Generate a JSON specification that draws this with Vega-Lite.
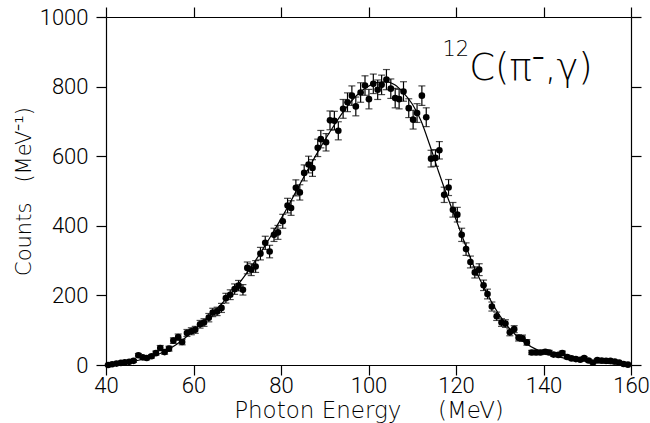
{
  "$schema": "https://vega.github.io/schema/vega-lite/v6.json",
  "width": 525,
  "height": 348,
  "autosize": {"type": "none"},
  "padding": {"left": 106, "top": 17, "right": 19, "bottom": 58},
  "background": "white",
  "config": {
    "view": {"stroke": null},
    "axis": {
      "grid": false,
      "domainColor": "black",
      "domainWidth": 1.2,
      "tickColor": "black",
      "tickWidth": 1.2,
      "tickSize": 10,
      "labelFont": "Roboto",
      "labelFontSize": 22,
      "labelFontWeight": 300,
      "labelColor": "black",
      "labelFlush": false,
      "labelOverlap": false,
      "titleFont": "DejaVu Sans",
      "titleFontSize": 21,
      "titleFontWeight": 200,
      "titleColor": "black"
    }
  },
  "datasets": {
    "obs": [
      {"energy": 40.5, "counts": 0, "err": 2},
      {"energy": 41.4, "counts": 2, "err": 2},
      {"energy": 42.4, "counts": 4, "err": 2},
      {"energy": 43.4, "counts": 6, "err": 3},
      {"energy": 44.3, "counts": 8, "err": 3},
      {"energy": 45.3, "counts": 9, "err": 3},
      {"energy": 46.3, "counts": 12, "err": 4},
      {"energy": 47.4, "counts": 28, "err": 5},
      {"energy": 48.4, "counts": 22, "err": 5},
      {"energy": 49.3, "counts": 20, "err": 5},
      {"energy": 50.4, "counts": 25, "err": 5},
      {"energy": 51.4, "counts": 34, "err": 6},
      {"energy": 52.4, "counts": 49, "err": 7},
      {"energy": 53.4, "counts": 37, "err": 6},
      {"energy": 54.4, "counts": 47, "err": 7},
      {"energy": 55.4, "counts": 70, "err": 8},
      {"energy": 56.5, "counts": 80, "err": 9},
      {"energy": 57.4, "counts": 66, "err": 8},
      {"energy": 58.5, "counts": 92, "err": 10},
      {"energy": 59.5, "counts": 97, "err": 10},
      {"energy": 60.4, "counts": 101, "err": 10},
      {"energy": 61.5, "counts": 117, "err": 11},
      {"energy": 62.4, "counts": 122, "err": 11},
      {"energy": 63.5, "counts": 136, "err": 12},
      {"energy": 64.4, "counts": 151, "err": 12},
      {"energy": 65.4, "counts": 154, "err": 12},
      {"energy": 66.4, "counts": 164, "err": 13},
      {"energy": 67.4, "counts": 192, "err": 14},
      {"energy": 68.4, "counts": 202, "err": 14},
      {"energy": 69.4, "counts": 218, "err": 15},
      {"energy": 70.3, "counts": 228, "err": 15},
      {"energy": 71.3, "counts": 216, "err": 15},
      {"energy": 72.3, "counts": 279, "err": 17},
      {"energy": 73.2, "counts": 274, "err": 17},
      {"energy": 74.2, "counts": 283, "err": 17},
      {"energy": 75.3, "counts": 320, "err": 18},
      {"energy": 76.4, "counts": 351, "err": 19},
      {"energy": 77.4, "counts": 326, "err": 18},
      {"energy": 78.4, "counts": 374, "err": 19},
      {"energy": 79.3, "counts": 381, "err": 20},
      {"energy": 80.4, "counts": 413, "err": 20},
      {"energy": 81.5, "counts": 458, "err": 21},
      {"energy": 82.3, "counts": 451, "err": 21},
      {"energy": 83.4, "counts": 509, "err": 23},
      {"energy": 84.3, "counts": 496, "err": 22},
      {"energy": 85.3, "counts": 552, "err": 23},
      {"energy": 86.3, "counts": 576, "err": 24},
      {"energy": 87.2, "counts": 566, "err": 24},
      {"energy": 88.4, "counts": 624, "err": 25},
      {"energy": 89.1, "counts": 649, "err": 25},
      {"energy": 90.3, "counts": 640, "err": 25},
      {"energy": 91.2, "counts": 703, "err": 27},
      {"energy": 92.2, "counts": 702, "err": 27},
      {"energy": 93.1, "counts": 673, "err": 26},
      {"energy": 94.2, "counts": 736, "err": 27},
      {"energy": 95.2, "counts": 755, "err": 27},
      {"energy": 96.2, "counts": 774, "err": 28},
      {"energy": 97.1, "counts": 743, "err": 27},
      {"energy": 98.2, "counts": 783, "err": 28},
      {"energy": 99.2, "counts": 803, "err": 28},
      {"energy": 100.1, "counts": 764, "err": 28},
      {"energy": 101.1, "counts": 808, "err": 28},
      {"energy": 102.1, "counts": 791, "err": 28},
      {"energy": 103.0, "counts": 805, "err": 28},
      {"energy": 104.1, "counts": 820, "err": 29},
      {"energy": 105.1, "counts": 794, "err": 28},
      {"energy": 106.1, "counts": 767, "err": 28},
      {"energy": 107.0, "counts": 764, "err": 28},
      {"energy": 108.0, "counts": 786, "err": 28},
      {"energy": 109.2, "counts": 738, "err": 27},
      {"energy": 110.2, "counts": 705, "err": 27},
      {"energy": 111.1, "counts": 724, "err": 27},
      {"energy": 112.2, "counts": 774, "err": 28},
      {"energy": 113.2, "counts": 712, "err": 27},
      {"energy": 114.3, "counts": 593, "err": 24},
      {"energy": 115.3, "counts": 595, "err": 24},
      {"energy": 116.2, "counts": 617, "err": 25},
      {"energy": 117.3, "counts": 489, "err": 22},
      {"energy": 118.3, "counts": 510, "err": 23},
      {"energy": 119.3, "counts": 446, "err": 21},
      {"energy": 120.3, "counts": 432, "err": 21},
      {"energy": 121.3, "counts": 374, "err": 19},
      {"energy": 122.3, "counts": 333, "err": 18},
      {"energy": 123.3, "counts": 296, "err": 17},
      {"energy": 124.3, "counts": 266, "err": 16},
      {"energy": 125.3, "counts": 274, "err": 17},
      {"energy": 126.3, "counts": 229, "err": 15},
      {"energy": 127.2, "counts": 204, "err": 14},
      {"energy": 128.2, "counts": 168, "err": 13},
      {"energy": 129.3, "counts": 140, "err": 12},
      {"energy": 130.4, "counts": 122, "err": 11},
      {"energy": 131.3, "counts": 119, "err": 11},
      {"energy": 132.3, "counts": 94, "err": 10},
      {"energy": 133.3, "counts": 103, "err": 10},
      {"energy": 134.3, "counts": 78, "err": 9},
      {"energy": 135.2, "counts": 77, "err": 9},
      {"energy": 136.2, "counts": 65, "err": 8},
      {"energy": 137.3, "counts": 36, "err": 6},
      {"energy": 138.3, "counts": 36, "err": 6},
      {"energy": 139.3, "counts": 36, "err": 6},
      {"energy": 140.4, "counts": 38, "err": 6},
      {"energy": 141.3, "counts": 36, "err": 6},
      {"energy": 142.3, "counts": 30, "err": 5},
      {"energy": 143.4, "counts": 29, "err": 5},
      {"energy": 144.3, "counts": 34, "err": 6},
      {"energy": 145.4, "counts": 23, "err": 5},
      {"energy": 146.4, "counts": 19, "err": 4},
      {"energy": 147.4, "counts": 17, "err": 4},
      {"energy": 148.4, "counts": 15, "err": 4},
      {"energy": 149.3, "counts": 20, "err": 4},
      {"energy": 150.3, "counts": 13, "err": 4},
      {"energy": 151.3, "counts": 7, "err": 3},
      {"energy": 152.3, "counts": 14, "err": 4},
      {"energy": 153.3, "counts": 13, "err": 4},
      {"energy": 154.3, "counts": 12, "err": 3},
      {"energy": 155.3, "counts": 12, "err": 3},
      {"energy": 156.3, "counts": 10, "err": 3},
      {"energy": 157.3, "counts": 7, "err": 3},
      {"energy": 158.3, "counts": 3, "err": 2},
      {"energy": 159.3, "counts": 1, "err": 1}
    ],
    "fit": [
      {"energy": 40, "fit": 1}, {"energy": 42, "fit": 3}, {"energy": 44, "fit": 6},
      {"energy": 46, "fit": 10}, {"energy": 48, "fit": 15}, {"energy": 50, "fit": 22},
      {"energy": 52, "fit": 31}, {"energy": 54, "fit": 43}, {"energy": 56, "fit": 58},
      {"energy": 58, "fit": 77}, {"energy": 60, "fit": 99}, {"energy": 62, "fit": 122},
      {"energy": 64, "fit": 145}, {"energy": 66, "fit": 170}, {"energy": 68, "fit": 198},
      {"energy": 70, "fit": 228}, {"energy": 72, "fit": 261}, {"energy": 74, "fit": 297},
      {"energy": 76, "fit": 336}, {"energy": 78, "fit": 377}, {"energy": 80, "fit": 420},
      {"energy": 82, "fit": 465}, {"energy": 84, "fit": 512}, {"energy": 86, "fit": 558},
      {"energy": 88, "fit": 603}, {"energy": 90, "fit": 646}, {"energy": 92, "fit": 686},
      {"energy": 94, "fit": 724}, {"energy": 96, "fit": 757}, {"energy": 98, "fit": 783},
      {"energy": 100, "fit": 801}, {"energy": 102, "fit": 812}, {"energy": 104, "fit": 814},
      {"energy": 106, "fit": 805}, {"energy": 108, "fit": 782}, {"energy": 110, "fit": 750},
      {"energy": 112, "fit": 702}, {"energy": 114, "fit": 632}, {"energy": 116, "fit": 556},
      {"energy": 118, "fit": 485}, {"energy": 120, "fit": 418}, {"energy": 122, "fit": 350},
      {"energy": 124, "fit": 286}, {"energy": 126, "fit": 232}, {"energy": 128, "fit": 184},
      {"energy": 130, "fit": 142}, {"energy": 132, "fit": 108}, {"energy": 134, "fit": 82},
      {"energy": 136, "fit": 62}, {"energy": 138, "fit": 47}, {"energy": 140, "fit": 36},
      {"energy": 142, "fit": 28}, {"energy": 144, "fit": 22}, {"energy": 146, "fit": 17},
      {"energy": 148, "fit": 13}, {"energy": 150, "fit": 10}, {"energy": 152, "fit": 7},
      {"energy": 154, "fit": 5}, {"energy": 156, "fit": 3}, {"energy": 158, "fit": 2},
      {"energy": 160, "fit": 1}
    ],
    "sup": [{"energy": 116.9, "counts": 889, "t": "12"}],
    "main": [{"energy": 123.0, "counts": 818, "t": "C(π⁻,γ)"}]
  },
  "layer": [
    {
      "data": {"name": "fit"},
      "mark": {"type": "line", "color": "black", "strokeWidth": 1.2, "interpolate": "monotone"},
      "encoding": {
        "x": {
          "field": "energy", "type": "quantitative",
          "scale": {"domain": [40, 160], "nice": false, "zero": false, "padding": 0},
          "axis": {"orient": "bottom", "values": [40, 60, 80, 100, 120, 140, 160], "labelPadding": 0, "format": "d",
                   "title": "Photon Energy\u00a0\u00a0\u00a0\u00a0\u00a0(MeV)", "titleFontSize": 23, "titleBaseline": "alphabetic", "titleY": 52}
        },
        "y": {
          "field": "fit", "type": "quantitative",
          "scale": {"domain": [0, 1000], "nice": false, "zero": false, "padding": 0},
          "axis": {"orient": "left", "values": [0, 200, 400, 600, 800, 1000], "labelPadding": 8, "format": "d",
                   "title": "Counts\u00a0\u00a0\u00a0(MeV⁻¹)", "titlePadding": 5}
        }
      }
    },
    {
      "data": {"name": "obs"},
      "mark": {"type": "errorbar", "color": "black", "thickness": 1.2, "ticks": {"size": 7, "thickness": 1.2, "color": "black"}},
      "encoding": {
        "x": {"field": "energy", "type": "quantitative", "axis": null},
        "y": {"field": "counts", "type": "quantitative", "axis": null},
        "yError": {"field": "err"}
      }
    },
    {
      "data": {"name": "obs"},
      "mark": {"type": "point", "filled": true, "color": "black", "opacity": 1, "size": 44},
      "encoding": {
        "x": {"field": "energy", "type": "quantitative",
              "axis": {"orient": "top", "labels": false, "title": null, "values": [40, 60, 80, 100, 120, 140, 160]}},
        "y": {"field": "counts", "type": "quantitative",
              "axis": {"orient": "right", "labels": false, "title": null, "values": [0, 200, 400, 600, 800, 1000]}}
      }
    },
    {
      "data": {"name": "sup"},
      "mark": {"type": "text", "font": "DejaVu Sans", "fontWeight": 200, "fontSize": 21, "align": "left", "baseline": "alphabetic", "color": "black"},
      "encoding": {
        "x": {"field": "energy", "type": "quantitative", "axis": null},
        "y": {"field": "counts", "type": "quantitative", "axis": null},
        "text": {"field": "t"}
      }
    },
    {
      "data": {"name": "main"},
      "mark": {"type": "text", "font": "DejaVu Sans", "fontWeight": 200, "fontSize": 37, "align": "left", "baseline": "alphabetic", "color": "black"},
      "encoding": {
        "x": {"field": "energy", "type": "quantitative", "axis": null},
        "y": {"field": "counts", "type": "quantitative", "axis": null},
        "text": {"field": "t"}
      }
    }
  ],
  "resolve": {"axis": {"x": "independent", "y": "independent"}}
}
